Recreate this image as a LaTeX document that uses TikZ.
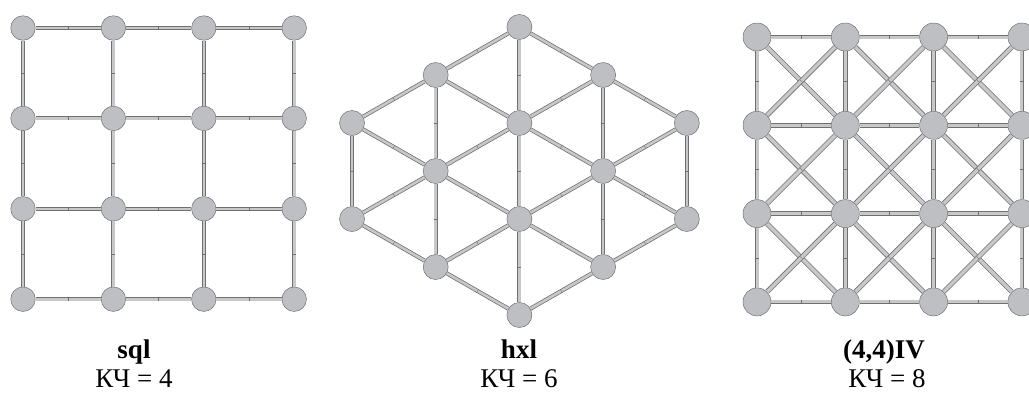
\documentclass[tikz,border=0pt]{standalone}
\usepackage{fontspec}
\setmainfont{Liberation Serif}
\usetikzlibrary{decorations.markings}

\definecolor{atomfill}{RGB}{190,191,194}
\definecolor{atomline}{RGB}{112,112,114}
\definecolor{bondfill}{RGB}{200,200,202}

\tikzset{
  atom/.style={circle, fill=atomfill, draw=atomline, line width=0.5pt, minimum size=24.5pt, inner sep=0pt},
  bond/.style={draw=atomline, line width=0.75pt, double=bondfill, double distance=2.6pt,
    postaction={decorate, decoration={markings, mark=at position 0.5 with {\draw[atomline, line width=0.4pt] (0,-2pt) -- (0,2pt);}}}},
  netname/.style={font=\fontsize{27}{32}\selectfont\bfseries, anchor=base},
  cnlabel/.style={font=\fontsize{27}{32}\selectfont, anchor=base},
}

\begin{document}
\begin{tikzpicture}[x=1pt, y=-1pt]
    \clip (0,0) rectangle (1029,418);
    \useasboundingbox (0,0) rectangle (1029,418);

    % sql net
    \foreach \i in {0,...,3}
      \foreach \j in {0,...,3}
        \node[atom] (s\i\j) at ({23+90.4*\i}, {28+90.4*\j}) {};
    \foreach \i in {0,...,3}
      \foreach \j/\k in {0/1,1/2,2/3} {
        \draw[bond] (s\i\j) -- (s\i\k);
        \draw[bond] (s\j\i) -- (s\k\i);
      }

    % hxl net
    \foreach \c/\r in {0/2,0/4,1/1,1/3,1/5,2/0,2/2,2/4,2/6,3/1,3/3,3/5,4/2,4/4}
      \node[atom, minimum size=25pt] (h\c\r) at ({352+83.7*\c}, {27+48*\r}) {};
    \foreach \a/\b in {02/04,11/13,13/15,20/22,22/24,24/26,31/33,33/35,42/44,
                       02/11,04/13,11/20,13/22,15/24,22/31,24/33,26/35,33/42,35/44,
                       02/13,04/15,11/22,13/24,15/26,20/31,22/33,24/35,31/42,33/44}
      \draw[bond] (h\a) -- (h\b);

    % (4,4)IV net
    \foreach \i in {0,...,3}
      \foreach \j in {0,...,3}
        \node[atom, minimum size=28pt] (q\i\j) at ({757+88.3*\i}, {37+88.3*\j}) {};
    \foreach \i in {0,...,3}
      \foreach \j/\k in {0/1,1/2,2/3} {
        \draw[bond, double distance=3pt] (q\i\j) -- (q\i\k);
        \draw[bond, double distance=3pt] (q\j\i) -- (q\k\i);
      }
    \foreach \i/\ii in {0/1,1/2,2/3}
      \foreach \j/\jj in {0/1,1/2,2/3} {
        \draw[bond, double distance=3.4pt] (q\i\j) -- (q\ii\jj);
        \draw[bond, double distance=3.4pt] (q\ii\j) -- (q\i\jj);
      }

    % labels
    \node[netname] (sqlname) at (134,358) {sql};
    \node[cnlabel] (sqlcn) at (134,387) {КЧ = 4};
    \node[netname] (hxlname) at (519,358) {hxl};
    \node[cnlabel] (hxlcn) at (519,387) {КЧ = 6};
    \node[netname] (ivname) at (884,358) {(4,4)IV};
    \node[cnlabel] (ivcn) at (887,387) {КЧ = 8};
\end{tikzpicture}
\end{document}
